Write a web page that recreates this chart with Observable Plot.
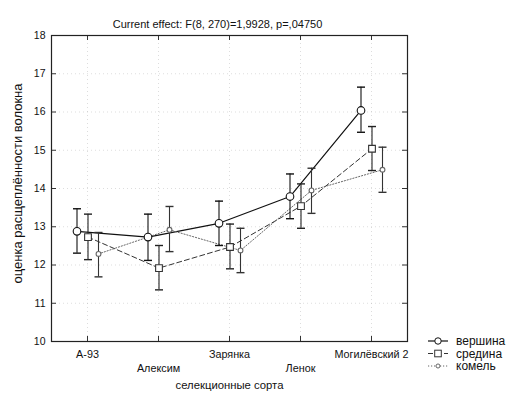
<!DOCTYPE html>
<html><head><meta charset="utf-8">
<script src="https://cdn.jsdelivr.net/npm/d3@7"></script>
<script src="https://cdn.jsdelivr.net/npm/@observablehq/plot@0.6"></script>
<style>
body{margin:0;background:#fff}
#chart svg{font-family:"Liberation Sans",Arial,sans-serif;background:#fff}
</style>
</head><body><div id="chart"></div>
<script>
const categories = ["A-93", "Алексим", "Зарянка", "Ленок", "Могилёвский 2"];
const seriesNames = ["вершина", "средина", "комель"];
const vershinaMean = [12.88, 12.73, 13.09, 13.79, 16.04];
const vershinaLow  = [12.31, 12.12, 12.51, 13.21, 15.47];
const vershinaHigh = [13.47, 13.33, 13.67, 14.38, 16.65];
const seredinaMean = [12.73, 11.92, 12.47, 13.54, 15.04];
const seredinaLow  = [12.14, 11.35, 11.90, 12.96, 14.47];
const seredinaHigh = [13.33, 12.51, 13.07, 14.12, 15.62];
const komelMean = [12.29, 12.92, 12.38, 13.95, 14.49];
const komelLow  = [11.69, 12.35, 11.80, 13.35, 13.90];
const komelHigh = [12.85, 13.53, 12.96, 14.53, 15.08];
const yTicks = [10, 11, 12, 13, 14, 15, 16, 17, 18];
const titleText = "Current effect: F(8, 270)=1,9928, p=,04750";
const xLabel = "селекционные сорта";
const yLabel = "оценка расщеплённости волокна";

const W = 510, H = 393, mL = 51, mR = 103, mT = 35, mB = 52;
const innerW = W - mL - mR, innerH = H - mT - mB;

const mk = (means, lows, highs) => categories.map((c, i) => ({cat: c, mean: means[i], lo: lows[i], hi: highs[i]}));
const series = [
  {name: seriesNames[0], rows: mk(vershinaMean, vershinaLow, vershinaHigh), dx: -10.5, stroke: "#111", dash: null, symbol: "circle", r: 3.8, width: 1.2, bar: "#111"},
  {name: seriesNames[1], rows: mk(seredinaMean, seredinaLow, seredinaHigh), dx: 0.5, stroke: "#333", dash: "5,3", symbol: "square", r: 3.8, width: 1, bar: "#222"},
  {name: seriesNames[2], rows: mk(komelMean, komelLow, komelHigh), dx: 11, stroke: "#666", dash: "1.2,1.8", symbol: "circle", r: 2.4, width: 1, bar: "#333"}
];

const capSymbol = {draw(ctx, size) { const w = 4; ctx.moveTo(-w, 0); ctx.lineTo(w, 0); }};
const row1 = [categories[0], categories[2], categories[4]];
const row2 = [categories[1], categories[3]];

const marks = [
  Plot.gridY(yTicks, {stroke: "#aaa", strokeOpacity: 0.4, strokeDasharray: "1,3"}),
  Plot.gridX(categories, {stroke: "#aaa", strokeOpacity: 0.4, strokeDasharray: "1,3"}),
  Plot.tickX(categories, {x: d => d, insetTop: innerH - 5, stroke: "#333"}),
  Plot.tickX(categories, {x: d => d, insetBottom: innerH - 5, stroke: "#333"}),
  Plot.tickY(yTicks, {y: d => d, insetRight: innerW - 5, stroke: "#333"}),
  Plot.tickY(yTicks, {y: d => d, insetLeft: innerW - 5, stroke: "#333"}),
  Plot.axisY({ticks: yTicks, tickSize: 0, tickPadding: 6, label: null, fontSize: 10.5, color: "#111"}),
  Plot.axisX({ticks: row1, tickSize: 0, tickPadding: 9, label: null, fontSize: 10.8, color: "#111"}),
  Plot.axisX({ticks: row2, tickSize: 0, tickPadding: 23, label: null, fontSize: 10.8, color: "#111"}),
  Plot.text([titleText], {text: d => d, frameAnchor: "top", dx: -12, dy: -15.5, fontSize: 11, fill: "#111"}),
  Plot.text([xLabel], {text: d => d, frameAnchor: "bottom", dy: 47, fontSize: 11.3, fill: "#111"}),
  Plot.text([yLabel], {text: d => d, frameAnchor: "left", textAnchor: "middle", rotate: -90, dx: -34, dy: -5, fontSize: 13, fill: "#111"})
];

for (const s of series) {
  marks.push(Plot.line(s.rows, {x: "cat", y: "mean", dx: s.dx, stroke: s.stroke, strokeWidth: s.width, strokeDasharray: s.dash}));
}
for (const s of series) {
  marks.push(Plot.ruleX(s.rows, {x: "cat", y1: "lo", y2: "hi", dx: s.dx, stroke: s.bar, strokeWidth: 1.1}));
  marks.push(Plot.dot(s.rows, {x: "cat", y: "hi", dx: s.dx, symbol: capSymbol, stroke: s.bar, strokeWidth: 1.4, fill: "none"}));
  marks.push(Plot.dot(s.rows, {x: "cat", y: "lo", dx: s.dx, symbol: capSymbol, stroke: s.bar, strokeWidth: 1.4, fill: "none"}));
  marks.push(Plot.dot(s.rows, {x: "cat", y: "mean", dx: s.dx, symbol: s.symbol, r: s.r, stroke: s.stroke, strokeWidth: 1.1, fill: "white"}));
}
marks.push(Plot.frame({stroke: "#222", strokeWidth: 1.2}));

const chart = Plot.plot({
  width: W, height: H,
  marginLeft: mL, marginRight: mR, marginTop: mT, marginBottom: mB,
  style: {background: "white", color: "#111"},
  x: {type: "point", domain: categories, padding: 0.5, axis: null},
  y: {domain: [10, 18], axis: null},
  marks
});
document.getElementById("chart").append(chart);

// legend
const svg = d3.select(chart);
const lg = svg.append("g").attr("font-size", 12).attr("fill", "#111").attr("text-anchor", "start");
series.forEach((s, i) => {
  const y = 341 + i * 12.5;
  lg.append("line").attr("x1", 428).attr("x2", 448).attr("y1", y).attr("y2", y)
    .attr("stroke", s.stroke).attr("stroke-width", s.width).attr("stroke-dasharray", s.dash);
  if (s.symbol === "square") {
    lg.append("rect").attr("x", 438 - 3.3).attr("y", y - 3.3).attr("width", 6.6).attr("height", 6.6)
      .attr("fill", "white").attr("stroke", s.stroke);
  } else {
    lg.append("circle").attr("cx", 438).attr("cy", y).attr("r", s.r * 0.85).attr("fill", "white").attr("stroke", s.stroke);
  }
  lg.append("text").attr("x", 456).attr("y", y).attr("dy", "0.35em").attr("text-anchor", "start").text(s.name);
});
</script>
</body></html>
